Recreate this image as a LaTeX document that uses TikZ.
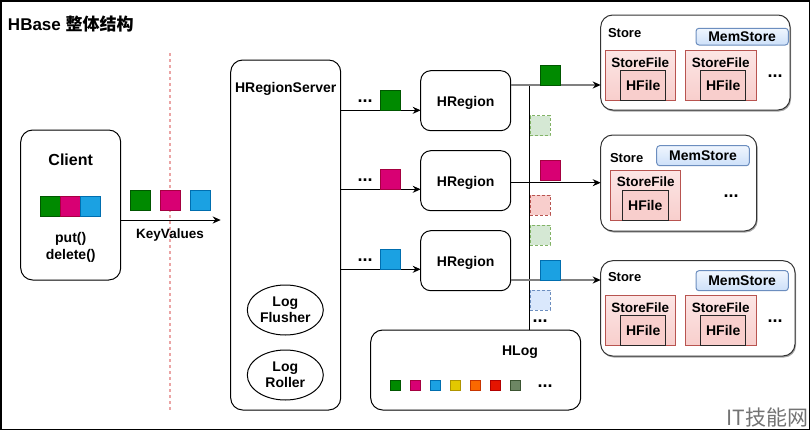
\documentclass[tikz,border=0pt]{standalone}
\usepackage{fontspec}
\setmainfont{Liberation Sans}
\newfontfamily\cjkfont{Noto Sans CJK SC}
\usetikzlibrary{arrows.meta,shapes.geometric,shadows}
\newcommand\fsz[2]{\fontsize{#1}{#2}\selectfont}
\definecolor{kgreen}{HTML}{008A00}\definecolor{kgreenD}{HTML}{005700}
\definecolor{kmag}{HTML}{D80073}\definecolor{kmagD}{HTML}{A50040}
\definecolor{kblue}{HTML}{1BA1E2}\definecolor{kblueD}{HTML}{006EAF}
\definecolor{kyel}{HTML}{E3C800}\definecolor{kyelD}{HTML}{B09500}
\definecolor{kora}{HTML}{FA6800}\definecolor{koraD}{HTML}{C73500}
\definecolor{kred}{HTML}{E51400}\definecolor{kredD}{HTML}{B20000}
\definecolor{kolv}{HTML}{6D8764}\definecolor{kolvD}{HTML}{3A5431}
\definecolor{lgreen}{HTML}{D5E8D4}\definecolor{lgreenD}{HTML}{82B366}
\definecolor{lred}{HTML}{F8CECC}\definecolor{lredD}{HTML}{B85450}
\definecolor{lblue}{HTML}{DAE8FC}\definecolor{lblueD}{HTML}{6C8EBF}
\definecolor{sftop}{HTML}{FCE6E5}
\definecolor{mstop}{HTML}{F0F6FE}\definecolor{msbot}{HTML}{CDE0F9}
\definecolor{pinkline}{HTML}{EBA5A5}
\definecolor{gline}{HTML}{808080}
\begin{document}
\begin{tikzpicture}[x=1pt,y=-1pt,
  every node/.style={inner sep=0pt,outer sep=0pt},
  rbox/.style={draw=black,line width=1pt,rounded corners=#1,anchor=north west},
  sq/.style={draw,line width=1pt,minimum size=20pt,anchor=north west},
  ssq/.style={draw,line width=1pt,minimum size=10.7pt,anchor=north west},
  dsq/.style={draw,line width=1pt,dash pattern=on 3pt off 2pt,minimum size=20pt,anchor=north west},
  lbl/.style={font=\bfseries\fsz{#1}{#1},text height=0.716em,text depth=0pt,yshift=-1.8pt},
  lbl/.default=14,
  dots/.style={font=\bfseries\fsz{18}{18},anchor=base},
  arr/.style={-{Stealth[length=8pt,width=7pt]},line width=1pt},
  garr/.style={-{Stealth[length=8pt,width=7pt,color=black]},line width=2pt,draw=gline},
  store/.style={draw=black!80,line width=1pt,rounded corners=12pt,anchor=north west,fill=white,
    drop shadow={shadow xshift=1pt,shadow yshift=-1.5pt,opacity=0.35,fill=black}},
  mem/.style={draw=lblueD,line width=1pt,rounded corners=3pt,anchor=north west,top color=mstop,bottom color=msbot,
    font=\bfseries\fsz{14}{14},text height=0.716em+3.2pt,text depth=0pt},
  sf/.style={draw=lredD,line width=1pt,anchor=north west,top color=sftop,bottom color=lred,minimum width=70.7pt,minimum height=50.7pt},
  hf/.style={draw=black!85,line width=1pt,anchor=north west,fill=lred,minimum width=45pt,minimum height=30.7pt,
    font=\bfseries\fsz{14}{14},text height=0.716em+3.6pt,text depth=0pt},
]
\useasboundingbox (0,0) rectangle (811,431);
\draw[line width=1.5pt] (0.75,0.75) rectangle (809.5,429.5);
\node[anchor=west,font=\bfseries\fsz{17}{17},text height=0.716em,text depth=0pt,yshift=-2.5pt] (title) at (8,24) {HBase {\cjkfont\bfseries 整体结构}};

% dashed separator
\draw[draw=pinkline,line width=1.5pt,dash pattern=on 3pt off 3pt] (170,53) -- (170,410);

% Client
\node[rbox=12pt,minimum width=100pt,minimum height=150pt] (client) at (20.7,130) {};
\node[lbl=16] (clientlbl) at (70.7,160) {Client};
\node[sq,fill=kgreen,draw=kgreenD] (cg) at (40,196) {};
\node[sq,fill=kmag,draw=kmagD] (cm) at (60,196) {};
\node[sq,fill=kblue,draw=kblueD] (cb) at (80,196) {};
\node[align=center,font=\bfseries\fsz{14}{17}] (ops) at (70.7,247.5) {put()\\delete()};

% HRegionServer
\node[rbox=12pt,minimum width=110pt,minimum height=350pt] (hrs) at (230.7,60) {};
\node[lbl=14] (hrslbl) at (285.7,86.7) {HRegionServer};
\node[draw,ellipse,line width=1pt,minimum width=76pt,minimum height=50pt,align=center,font=\bfseries\fsz{14}{16}] (flusher) at (285.3,310) {Log\\Flusher};
\node[draw,ellipse,line width=1pt,minimum width=76pt,minimum height=50pt,align=center,font=\bfseries\fsz{14}{16}] (roller) at (285.3,375) {Log\\Roller};

% KeyValues
\coordinate (kvy) at (0,220);
\draw[arr,shorten >=10pt] (client.east |- kvy) -- (hrs.west |- kvy);
\node[sq,fill=kgreen,draw=kgreenD] (kg) at (130,190) {};
\node[sq,fill=kmag,draw=kmagD] (km) at (160,190) {};
\node[sq,fill=kblue,draw=kblueD] (kb) at (190,190) {};
\node[lbl=13.5] (kvlbl) at (170,233) {KeyValues};

% HRegions
\node[rbox=10pt,minimum width=90pt,minimum height=60pt] (hr1) at (420.7,70.7) {};
\node[rbox=10pt,minimum width=90pt,minimum height=60pt] (hr2) at (420.7,150.7) {};
\node[rbox=10pt,minimum width=90pt,minimum height=60pt] (hr3) at (420.7,230.7) {};
\node[lbl=14] (hr1l) at (hr1.center) {HRegion};
\node[lbl=14] (hr2l) at (hr2.center) {HRegion};
\node[lbl=14] (hr3l) at (hr3.center) {HRegion};

\coordinate (a1) at (0,110.3);
\coordinate (a2) at (0,189.3);
\coordinate (a3) at (0,269.3);
\draw[arr] (hrs.east |- a1) -- (hr1.west |- a1);
\draw[arr] (hrs.east |- a2) -- (hr2.west |- a2);
\draw[arr] (hrs.east |- a3) -- (hr3.west |- a3);
\node[sq,fill=kgreen,draw=kgreenD] (s1) at (380,90.3) {};
\node[sq,fill=kmag,draw=kmagD] (s2) at (380,169.3) {};
\node[sq,fill=kblue,draw=kblueD] (s3) at (380,249.3) {};
\node[dots] (d1) at (365,102) {...};
\node[dots] (d2) at (365,181) {...};
\node[dots] (d3) at (365,261) {...};

% HLog
\node[rbox=12pt,minimum width=210pt,minimum height=80pt] (hlog) at (370.7,330) {};
\node[lbl=14] (hloglbl) at (520,350) {HLog};
\node[ssq,fill=kgreen,draw=kgreenD] (l1) at (390,380) {};
\node[ssq,fill=kmag,draw=kmagD] (l2) at (410,380) {};
\node[ssq,fill=kblue,draw=kblueD] (l3) at (430,380) {};
\node[ssq,fill=kyel,draw=kyelD] (l4) at (450,380) {};
\node[ssq,fill=kora,draw=koraD] (l5) at (470,380) {};
\node[ssq,fill=kred,draw=kredD] (l6) at (490,380) {};
\node[ssq,fill=kolv,draw=kolvD] (l7) at (510,380) {};
\node[dots] (d5) at (545,387) {...};

% Stores
\node[store,minimum width=189.3pt,minimum height=95pt] (st1) at (600.7,15) {};
\node[store,minimum width=156pt,minimum height=96pt] (st2) at (600.7,135) {};
\node[store,minimum width=194.3pt,minimum height=95.3pt] (st3) at (600.7,260.7) {};

% connectors to stores
\coordinate (b1) at (0,85);
\coordinate (b2) at (0,182.7);
\coordinate (b3) at (0,280);
\coordinate (vt) at (529.3,85);
\draw[line width=1pt] (vt) -- (vt |- hlog.north);
\draw[garr] (hr1.east |- b1) -- (st1.west |- b1);
\draw[arr] (hr2.east |- b2) -- (st2.west |- b2);
\draw[garr] (hr3.east |- b3) -- (st3.west |- b3);
\node[sq,fill=kgreen,draw=kgreenD] (t1) at (540,65) {};
\node[sq,fill=kmag,draw=kmagD] (t2) at (540,160) {};
\node[sq,fill=kblue,draw=kblueD] (t3) at (540,260) {};
\node[dsq,fill=lgreen,draw=lgreenD] (q1) at (530,115.7) {};
\node[dsq,fill=lred,draw=lredD] (q2) at (530,195) {};
\node[dsq,fill=lgreen,draw=lgreenD] (q3) at (530,225) {};
\node[dsq,fill=lblue,draw=lblueD] (q4) at (530,290) {};
\node[dots] (d4) at (540,322) {...};

% Store 1
\node[lbl=13,anchor=west] (st1l) at (608,31.7) {Store};
\node[mem,minimum width=92.3pt,minimum height=16.7pt] (ms1) at (696,28.3) {MemStore};
\node[sf] (sf1a) at (605,50) {};
\node[lbl=13.5] (sf1al) at (640.3,61.7) {StoreFile};
\node[hf] (hf1a) at (620.7,70) {HFile};
\node[sf] (sf1b) at (685.7,50) {};
\node[lbl=13.5] (sf1bl) at (720.7,61.7) {StoreFile};
\node[hf] (hf1b) at (700.7,70) {HFile};
\node[dots] (d6) at (775,77) {...};

% Store 2
\node[lbl=13,anchor=west] (st2l) at (610,156.7) {Store};
\node[mem,minimum width=92.6pt,minimum height=20pt] (ms2) at (656.7,145.7) {MemStore};
\node[sf,minimum width=70pt] (sf2a) at (610.7,170) {};
\node[lbl=13.5] (sf2al) at (645.7,181) {StoreFile};
\node[hf,minimum width=46pt] (hf2a) at (622.3,190) {HFile};
\node[dots] (d7) at (731,197) {...};

% Store 3
\node[lbl=13,anchor=west] (st3l) at (608,276) {Store};
\node[mem,minimum width=92.3pt,minimum height=20pt] (ms3) at (696,270.7) {MemStore};
\node[sf] (sf3a) at (605,295) {};
\node[lbl=13.5] (sf3al) at (640.3,306.7) {StoreFile};
\node[hf] (hf3a) at (620.7,315) {HFile};
\node[sf] (sf3b) at (685.7,295) {};
\node[lbl=13.5] (sf3bl) at (720.7,306.7) {StoreFile};
\node[hf] (hf3b) at (700.7,315) {HFile};
\node[dots] (d8) at (775,322) {...};

% watermark
\node[anchor=east,font=\cjkfont\fsz{21}{21},text=black!55] (wm) at (808,418) {IT技能网};
\end{tikzpicture}
\end{document}
